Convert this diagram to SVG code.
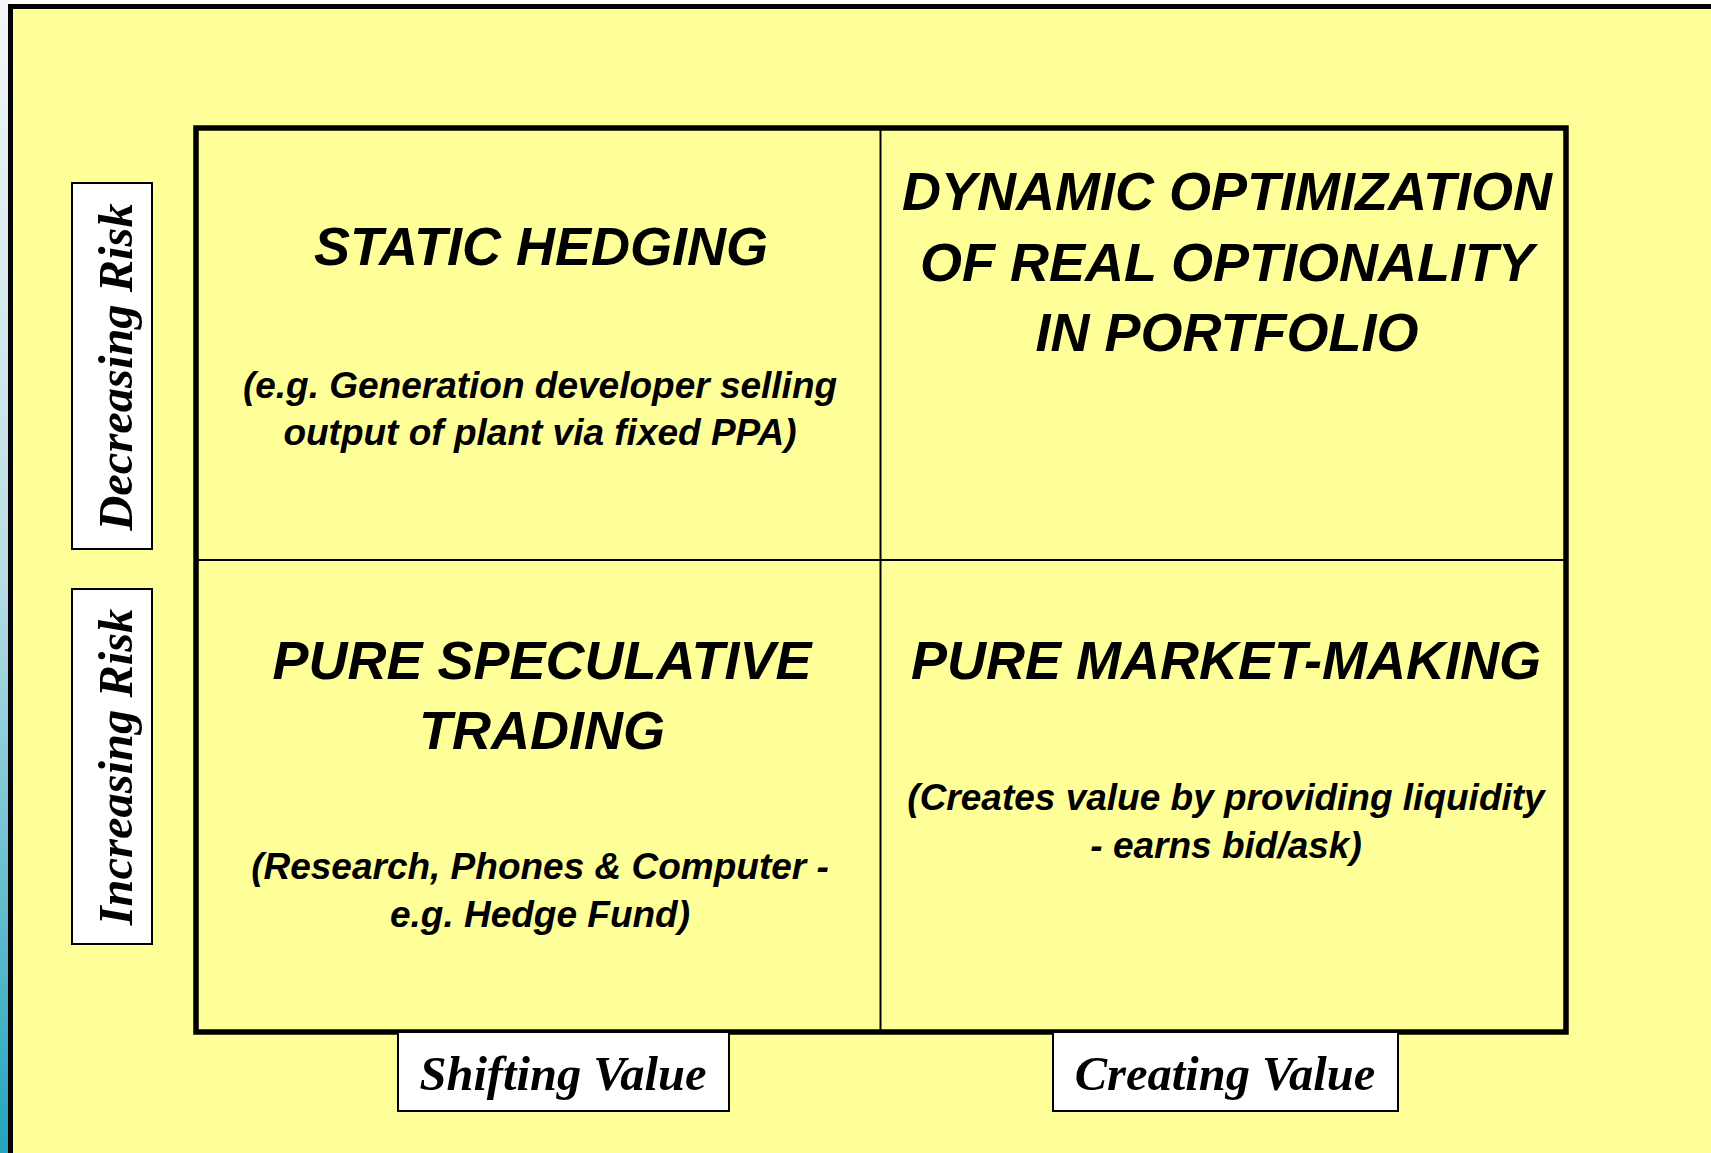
<svg xmlns="http://www.w3.org/2000/svg" width="1711" height="1153" viewBox="0 0 1711 1153">
  <defs>
    <linearGradient id="strip" x1="0" y1="0" x2="0" y2="1">
      <stop offset="0" stop-color="#f4f6f8"/>
      <stop offset="0.5" stop-color="#b8dde4"/>
      <stop offset="1" stop-color="#22a5bd"/>
    </linearGradient>
    <style>
      .title { font-family: "Liberation Sans", Arial, sans-serif; font-weight: bold; font-style: italic; font-size: 54px; fill: #000; text-anchor: middle; }
      .sub { font-family: "Liberation Sans", Arial, sans-serif; font-weight: bold; font-style: italic; font-size: 37px; fill: #000; text-anchor: middle; }
      .axis { font-family: "Liberation Serif", "Times New Roman", serif; font-weight: bold; font-style: italic; font-size: 48.5px; fill: #000; text-anchor: middle; }
      .labelbox { fill: #ffffff; stroke: #000; stroke-width: 2; }
      .thin { stroke: #000; stroke-width: 2; fill: none; }
    </style>
  </defs>

  <rect x="0" y="0" width="1711" height="1153" fill="#ffffff"/>
  <rect x="0" y="0" width="9" height="1153" fill="url(#strip)"/>

  <g id="frame">
    <rect x="10" y="6" width="1701" height="1147" fill="#ffff99"/>
    <path d="M10.5 1153 V6.5 H1711" fill="none" stroke="#000" stroke-width="5"/>
  </g>

  <g id="grid">
    <rect x="196" y="128" width="1370" height="904" fill="#ffff99" stroke="#000" stroke-width="5.5"/>
  </g>

  <g id="connectors">
    <line class="thin" x1="880.5" y1="128" x2="880.5" y2="1032"/>
    <line class="thin" x1="196" y1="560" x2="1566" y2="560"/>
  </g>

  <g id="static-hedging">
    <text class="title" x="541" y="265">STATIC HEDGING</text>
    <text class="sub" x="540" y="398">(e.g. Generation developer selling</text>
    <text class="sub" x="540" y="445">output of plant via fixed PPA)</text>
  </g>

  <g id="dynamic-optimization">
    <text class="title" x="1227" y="210">DYNAMIC OPTIMIZATION</text>
    <text class="title" x="1227" y="281">OF REAL OPTIONALITY</text>
    <text class="title" x="1227" y="351">IN PORTFOLIO</text>
  </g>

  <g id="pure-speculative">
    <text class="title" x="542" y="679">PURE SPECULATIVE</text>
    <text class="title" x="542" y="749">TRADING</text>
    <text class="sub" x="540" y="879">(Research, Phones &amp; Computer -</text>
    <text class="sub" x="540" y="927">e.g. Hedge Fund)</text>
  </g>

  <g id="pure-market-making">
    <text class="title" x="1226" y="679">PURE MARKET-MAKING</text>
    <text class="sub" x="1226" y="810">(Creates value by providing liquidity</text>
    <text class="sub" x="1226" y="858">- earns bid/ask)</text>
  </g>

  <g id="decreasing-risk">
    <rect class="labelbox" x="72" y="183" width="80" height="366"/>
    <text class="axis" transform="translate(132 367) rotate(-90)">Decreasing Risk</text>
  </g>

  <g id="increasing-risk">
    <rect class="labelbox" x="72" y="589" width="80" height="355"/>
    <text class="axis" transform="translate(132 767) rotate(-90)">Increasing Risk</text>
  </g>

  <g id="shifting-value">
    <rect class="labelbox" x="398" y="1032" width="331" height="79"/>
    <text class="axis" x="563" y="1090">Shifting Value</text>
  </g>

  <g id="creating-value">
    <rect class="labelbox" x="1053" y="1032" width="345" height="79"/>
    <text class="axis" x="1225" y="1090">Creating Value</text>
  </g>
</svg>
